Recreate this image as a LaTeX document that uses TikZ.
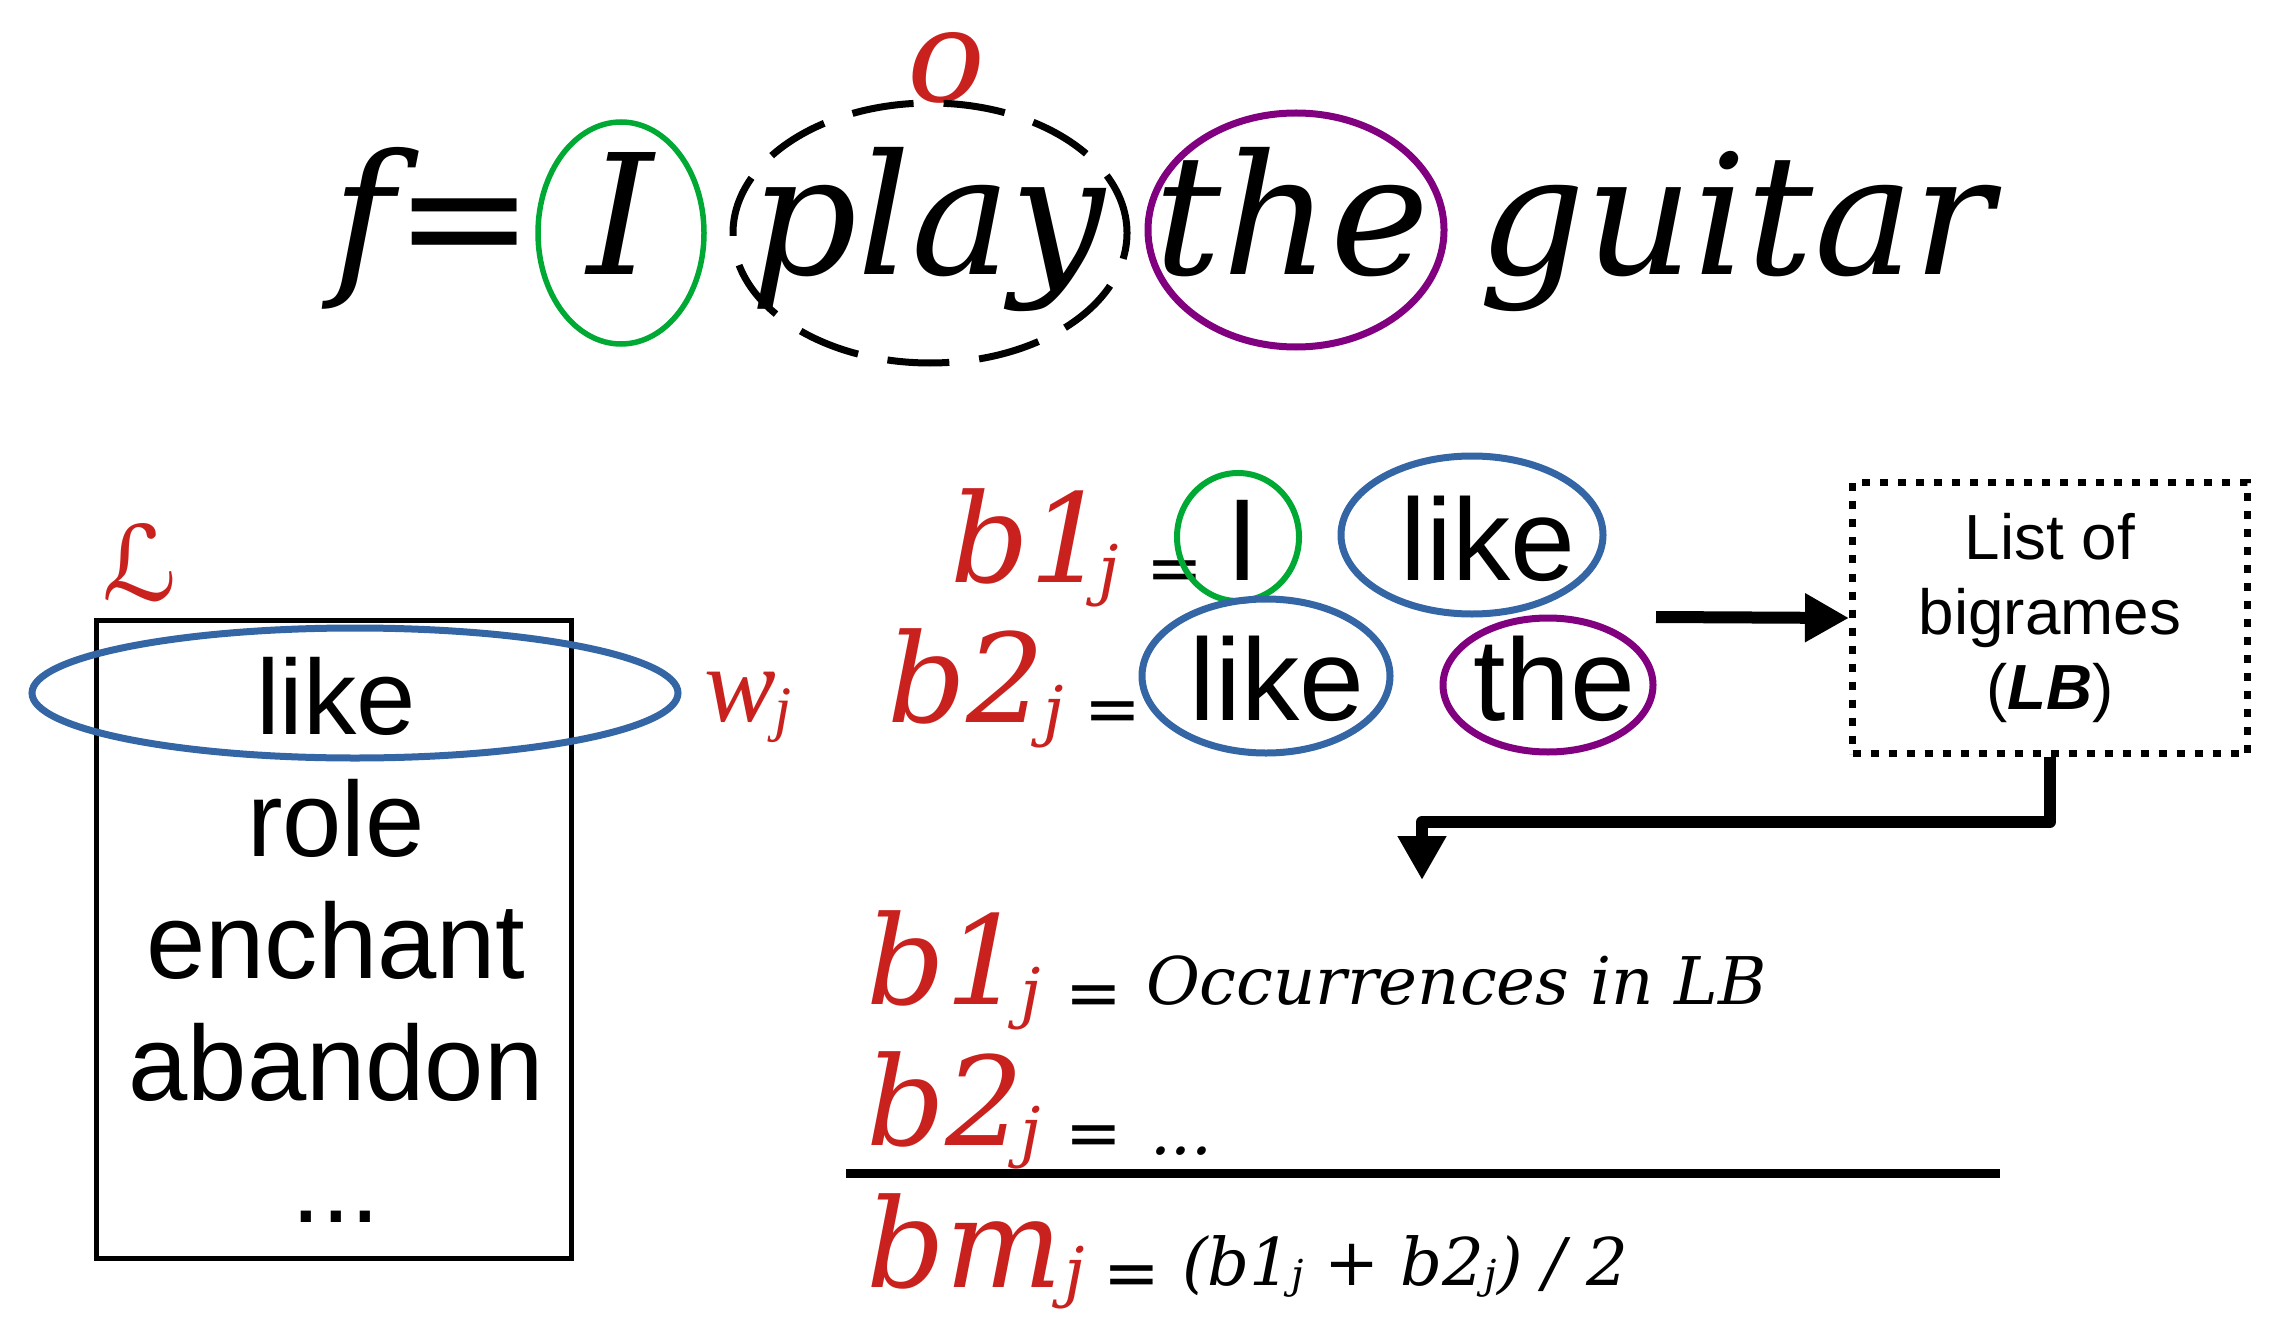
\documentclass[tikz,border=0pt]{standalone}
\usepackage{fontspec}
\setmainfont{DejaVu Serif}
\newfontfamily\arial{Liberation Sans}
\newfontfamily\djs{DejaVu Sans}
\newfontfamily\libser{Liberation Serif}
\usetikzlibrary{arrows.meta}
\definecolor{cred}{HTML}{C9211E}
\definecolor{cgreen}{HTML}{00A933}
\definecolor{cpurple}{HTML}{800080}
\definecolor{cblue}{HTML}{3465A4}
\newcommand\fsz[1]{\fontsize{#1}{#1}\selectfont}
\begin{document}
\begin{tikzpicture}[x=1bp,y=-1bp,
  txt/.style={inner sep=0pt,outer sep=0pt,anchor=base},
  bigword/.style={txt,font=\fsz{168}\itshape},
  redvar/.style={txt,anchor=base west,text=cred,font=\fsz{124}\itshape},
  redsub/.style={txt,anchor=base west,text=cred,font=\fsz{66}\itshape},
  eqsign/.style={txt,font=\djs\fsz{68}},
  wordS/.style={txt,font=\arial\fsz{117}},
  listw/.style={txt,font=\arial\fsz{107}},
  formula/.style={txt,anchor=base west,font=\fsz{66}\itshape},
  ring/.style={line width=6bp},
  fatarrow/.style={line width=12bp,line join=round,-{Triangle[length=44bp,width=46bp]}}
]
\useasboundingbox (0,0) rectangle (2280,1328);

% ---- top sentence
\node[bigword] (f) at (434,275) {f=};
\node[bigword] (wI) at (621,275) {I};
\node[bigword] (play) at (928,275) {play};
\node[bigword] (the) at (1292,275) {the};
\node[bigword] (guitar) at (1736,275) {guitar};
\node[txt,font=\fsz{130}\itshape,text=cred] (o) at (946,102) {o};
\draw[ring,cgreen,line width=5.5bp] (621,233) ellipse [x radius=83bp,y radius=111bp];
\draw[ring,line width=7bp,dash pattern=on 62bp off 30bp] (930,233) ellipse [x radius=197bp,y radius=130bp];
\draw[ring,cpurple,line width=7bp] (1296,230) ellipse [x radius=148bp,y radius=117bp];

% ---- left list
\node[draw,line width=5bp,minimum width=474bp,minimum height=638bp,inner sep=0pt] (L) at (334,939) {};
\node[listw] (l1) at (336,734) {like};
\node[listw] (l2) at (336,856) {role};
\node[listw] (l3) at (336,978) {enchant};
\node[listw] (l4) at (336,1100) {abandon};
\node[listw] (l5) at (336,1222) {...};
\draw[cblue,line width=7bp] (355,693) ellipse [x radius=323bp,y radius=65bp];
\node[txt,text=cred,font=\djs\fsz{104}] (cL) at (140,600) {ℒ};
\node[txt,anchor=base west,text=cred,font=\libser\itshape\fsz{108}] (wj) at (704,721) {w};
\node[txt,anchor=base west,text=cred,font=\libser\itshape\fsz{62}] (wjj) at (774,729) {j};

% ---- bigrams
\node[redvar] (b1) at (950,582) {b1};
\node[redsub] (b1j) at (1098,592) {j};
\node[eqsign] (e1) at (1175,591) {=};
\node[wordS] (I2) at (1243,580) {I};
\node[wordS] (like1) at (1488,580) {like};
\draw[cgreen,line width=6bp] (1238,537) ellipse [x radius=61bp,y radius=64bp];
\draw[cblue,line width=7bp] (1472,535) ellipse [x radius=131bp,y radius=79bp];

\node[redvar] (b2) at (887,722) {b2};
\node[redsub] (b2j) at (1043,733) {j};
\node[eqsign] (e2) at (1113,732) {=};
\node[wordS] (like2) at (1277,720) {like};
\node[wordS] (the2) at (1554,720) {the};
\draw[cblue,line width=7bp] (1266,676) ellipse [x radius=124bp,y radius=77bp];
\draw[cpurple,line width=7bp] (1548,685) ellipse [x radius=105bp,y radius=67bp];

% ---- list of bigrams box
\node[draw,line width=7bp,dash pattern=on 8bp off 10bp,minimum width=395bp,minimum height=271bp,
      inner sep=0pt,align=center,font=\arial\fontsize{64}{75}\selectfont] (lb) at (2050,618)
      {List of\\bigrames\\(\textbf{\textit{LB}})};
\coordinate (a0) at (1656,617);
\draw[fatarrow] (a0) -- (lb.west);
\coordinate (tip2) at (1422,880);
\draw[fatarrow] (lb.south) -- ++(0,65) -| (tip2);

% ---- formulas
\node[redvar] (c1) at (866,1004) {b1};
\node[redsub] (c1j) at (1020,1015) {j};
\node[eqsign] (e3) at (1094,1016) {=};
\node[formula] (occ) at (1146,1004) {Occurrences in LB};

\node[redvar] (c2) at (866,1145) {b2};
\node[redsub] (c2j) at (1020,1154) {j};
\node[eqsign] (e4) at (1094,1156) {=};
\node[formula] (dots) at (1150,1154) {...};

\coordinate (rl) at (846,1173);
\coordinate (rr) at (2000,1173);
\draw[line width=9bp] (rl) -- (rr);

\node[redvar] (cm) at (866,1287) {bm};
\node[redsub] (cmj) at (1064,1294) {j};
\node[eqsign] (e5) at (1132,1296) {=};
\node[formula] (avg) at (1182,1285) {(b1\raisebox{-3bp}{\fsz{40}j} + b2\raisebox{-3bp}{\fsz{40}j}) / 2};
\end{tikzpicture}
\end{document}
